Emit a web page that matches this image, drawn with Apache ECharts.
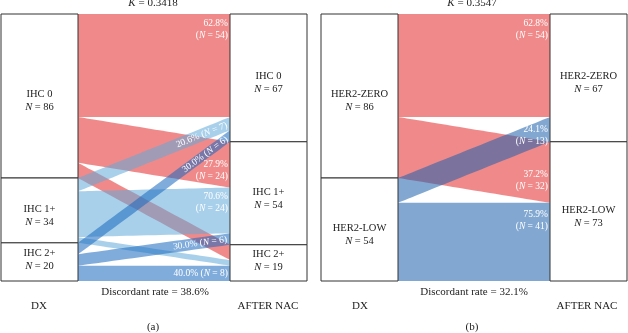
<!DOCTYPE html>
<html>
<head>
<meta charset="utf-8">
<script src="https://cdn.jsdelivr.net/npm/echarts@6/dist/echarts.min.js"></script>
<style>
  html, body { margin: 0; padding: 0; background: #fff; }
  #chart { width: 628px; height: 333px; }
</style>
</head>
<body>
<div id="chart"></div>
<script>
// (a) IHC score, (b) HER2 status: rows = DX, columns = AFTER NAC
const ihcCats = ["IHC 0", "IHC 1+", "IHC 2+"];
const ihcFlows = [
  [54, 24, 8],
  [7, 24, 3],
  [6, 6, 8],
];
const her2Cats = ["HER2-ZERO", "HER2-LOW"];
const her2Flows = [
  [54, 32],
  [13, 41],
];
const kappaValues = ["0.3418", "0.3547"];
const discordantRates = ["38.6%", "32.1%"];
const stageNames = ["DX", "AFTER NAC"];
const panelTags = ["(a)", "(b)"];

const FONT = "Liberation Serif, Times New Roman, serif";
const ihcColors = ["#e42a2a", "#60a9d8", "#1868bf"];
const her2Colors = ["#e42a2a", "#1b61ad"];

// where each flow label sits (null = no label)
const ihcLabelPos = [
  [{ mode: "top", pad: 3 }, { mode: "bottom", pad: 5 }, null],
  [{ mode: "along" }, { mode: "top", pad: 3 }, null],
  [{ mode: "along" }, { mode: "along" }, { mode: "center", lines: 1 }],
];
const her2LabelPos = [
  [{ mode: "top", pad: 3 }, { mode: "bottom", pad: 10 }],
  [{ mode: "center", shift: 6 }, { mode: "top", pad: 6 }],
];

const chart = echarts.init(document.getElementById("chart"));

function buildSeries(cats, flows, colors, left) {
  const nodes = [];
  ["dx:", "nac:"].forEach((pre) => {
    cats.forEach((c) => {
      nodes.push({
        name: pre + c,
        label: { offset: [0, c === "IHC 2+" ? -2 : 5] },
      });
    });
  });
  const links = [];
  flows.forEach((row, i) => {
    row.forEach((v, j) => {
      links.push({
        source: "dx:" + cats[i],
        target: "nac:" + cats[j],
        value: v,
        lineStyle: { color: colors[i] },
      });
    });
  });
  return {
    type: "sankey",
    left: left,
    top: 14,
    width: 306,
    height: 267,
    nodeWidth: 77,
    nodeGap: 0,
    layoutIterations: 0,
    draggable: false,
    data: nodes,
    links: links,
    itemStyle: { color: "#fff", borderColor: "#333", borderWidth: 1, opacity: 1 },
    lineStyle: { curveness: 0, opacity: 0.55 },
    label: {
      position: "inside",
      formatter: (p) => `{t|${p.name.split(":")[1]}}\n{i|N}{t| = ${p.value}}`,
      rich: {
        t: { fontFamily: FONT, fontSize: 10.5, color: "#222", lineHeight: 13 },
        i: { fontFamily: FONT, fontSize: 10.5, color: "#222", lineHeight: 13, fontStyle: "italic" },
      },
    },
    emphasis: { disabled: true },
  };
}

function fixedTexts() {
  const items = [];
  const centers = [155, 474];
  const dxX = [39, 360];
  const nacX = [268, 587];
  const txt = (x, y, text, rich) => ({
    type: "text",
    x: x,
    y: y,
    silent: true,
    style: {
      text: text,
      align: "center", textAlign: "center",
      verticalAlign: "middle", textVerticalAlign: "middle",
      fill: "#222",
      font: "11px " + FONT,
      rich: rich,
    },
  });
  const r = {
    n: { fontFamily: FONT, fontSize: 11, fill: "#222", color: "#222" },
    i: { fontFamily: FONT, fontSize: 11, fill: "#222", color: "#222", fontStyle: "italic" },
  };
  for (let k = 0; k < 2; k++) {
    items.push(txt(centers[k] - 2, 3, `{i|K}{n| = ${kappaValues[k]}}`, r));
    items.push(txt(centers[k], 292, "Discordant rate = " + discordantRates[k]));
    items.push(txt(dxX[k], 306, stageNames[0]));
    items.push(txt(nacX[k], 306, stageNames[1]));
    items.push(txt(centers[k] - 2, 327, panelTags[k]));
  }
  return items;
}

function flowLabels() {
  const out = [];
  const model = chart.getModel();
  const rich = {
    p: { fontFamily: FONT, fontSize: 9.5, fill: "#fff", color: "#fff", lineHeight: 12 },
    i: { fontFamily: FONT, fontSize: 9.5, fill: "#fff", color: "#fff", lineHeight: 12, fontStyle: "italic" },
  };
  const sets = [
    { flows: ihcFlows, pos: ihcLabelPos, left: 1 },
    { flows: her2Flows, pos: her2LabelPos, left: 321 },
  ];
  sets.forEach((set, si) => {
    const series = model.getSeriesByIndex(si);
    const info = series.layoutInfo || { x: set.left, y: 14 };
    const graph = series.getGraph();
    const n = set.flows.length;
    graph.eachEdge((edge) => {
      const idx = edge.dataIndex;
      const i = Math.floor(idx / n);
      const j = idx % n;
      const cfg = set.pos[i][j];
      if (!cfg) return;
      const total = set.flows[i].reduce((a, b) => a + b, 0);
      const v = set.flows[i][j];
      const pct = ((v / total) * 100).toFixed(1) + "%";
      const l1 = edge.node1.getLayout();
      const l2 = edge.node2.getLayout();
      const el = edge.getLayout();
      const x1 = info.x + l1.x + l1.dx;
      const y1 = info.y + l1.y + el.sy;
      const x2 = info.x + l2.x;
      const y2 = info.y + l2.y + el.ty;
      const dy = el.dy;
      let text, x = x2 - 2, y, va = "top", rotation = 0;
      const oneLine = `{p|${pct} (}{i|N}{p| = ${v})}`;
      const twoLine = `{p|${pct}}\n{p|(}{i|N}{p| = ${v})}`;
      if (cfg.mode === "top") {
        text = twoLine; y = y2 + cfg.pad; va = "top";
      } else if (cfg.mode === "bottom") {
        text = twoLine; y = y2 + dy - cfg.pad; va = "bottom";
      } else if (cfg.mode === "center") {
        text = cfg.lines === 1 ? oneLine : twoLine;
        y = y2 + dy / 2 + (cfg.shift || 0); va = "middle";
      } else {
        const slope = (y2 - y1) / (x2 - x1);
        x = x2 - 3;
        y = y2 + dy / 2 - slope * 3;
        rotation = Math.atan2(y1 - y2, x2 - x1);
        text = oneLine; va = "middle";
      }
      out.push({
        type: "text",
        x: x,
        y: y,
        rotation: rotation,
        silent: true,
        z: 100,
        style: {
          text: text,
          align: "right", textAlign: "right",
          verticalAlign: va, textVerticalAlign: va,
          fill: "#fff",
          font: "9.5px " + FONT,
          rich: rich,
        },
      });
    });
  });
  return out;
}

chart.setOption({
  backgroundColor: "#fff",
  animation: false,
  series: [
    buildSeries(ihcCats, ihcFlows, ihcColors, 1),
    buildSeries(her2Cats, her2Flows, her2Colors, 321),
  ],
  graphic: fixedTexts(),
});

let extra = [];
try {
  extra = flowLabels();
} catch (e) {
  extra = [{ type: "text", x: 100, y: 150, style: { text: "ERR " + e.message, fill: "#000", font: "12px sans-serif" } }];
}
chart.setOption({ graphic: fixedTexts().concat(extra) }, { replaceMerge: ["graphic"] });
</script>
</body>
</html>
